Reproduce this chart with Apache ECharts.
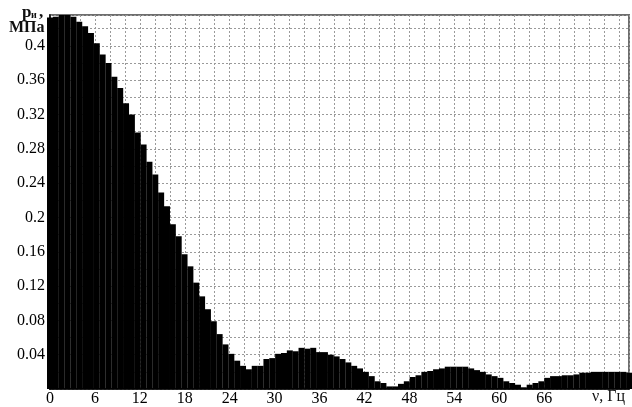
<!DOCTYPE html>
<html>
<head>
<meta charset="utf-8">
<script src="https://cdn.jsdelivr.net/npm/echarts@6/dist/echarts.min.js"></script>
<style>html,body{margin:0;padding:0;background:#fff}#c{width:632px;height:407px}</style>
</head>
<body>
<div id="c"></div>
<script>
// Frequencies of the spectral lines, Hz
const freq = [0,0.781,1.563,2.344,3.125,3.906,4.688,5.469,6.25,7.031,
7.813,8.594,9.375,10.156,10.938,11.719,12.5,13.281,14.063,14.844,
15.625,16.406,17.188,17.969,18.75,19.531,20.313,21.094,21.875,22.656,
23.438,24.219,25,25.781,26.563,27.344,28.125,28.906,29.688,30.469,
31.25,32.031,32.813,33.594,34.375,35.156,35.938,36.719,37.5,38.281,
39.063,39.844,40.625,41.406,42.188,42.969,43.75,44.531,45.313,46.094,
46.875,47.656,48.438,49.219,50,50.781,51.563,52.344,53.125,53.906,
54.688,55.469,56.25,57.031,57.813,58.594,59.375,60.156,60.938,61.719,
62.5,63.281,64.063,64.844,65.625,66.406,67.188,67.969,68.75,69.531,
70.313,71.094,71.875,72.656,73.438,74.219,75,75.781,76.563,77.344];
// Pressure amplitude, MPa
const pressure = [0.433,0.434,0.436,0.436,0.434,0.428,0.423,0.415,0.403,0.390,
0.380,0.364,0.351,0.333,0.320,0.299,0.285,0.265,0.250,0.229,
0.213,0.192,0.178,0.157,0.143,0.124,0.108,0.093,0.079,0.064,
0.052,0.041,0.033,0.027,0.023,0.027,0.027,0.035,0.036,0.041,
0.042,0.045,0.044,0.048,0.047,0.048,0.043,0.043,0.040,0.038,
0.035,0.031,0.027,0.024,0.020,0.015,0.009,0.007,0.003,0.003,
0.006,0.009,0.014,0.016,0.020,0.021,0.023,0.024,0.026,0.026,
0.026,0.026,0.024,0.022,0.020,0.017,0.015,0.013,0.009,0.007,
0.005,0.002,0.005,0.007,0.009,0.013,0.015,0.015,0.016,0.016,
0.017,0.019,0.019,0.020,0.020,0.020,0.020,0.020,0.020,0.019];
// Tick labels shown
const xTickLabels = [0,6,12,18,24,30,36,42,48,54,60,66];
const yTickLabels = [0.04,0.08,0.12,0.16,0.2,0.24,0.28,0.32,0.36,0.4];
const xName = 'ν, Гц';
const yNameTop = 'p';
const yNameSub = 'и';
const yNameUnit = 'МПа';

const chart = echarts.init(document.getElementById('c'), null, {renderer: 'canvas'});
const font = 'Liberation Serif';
const grid = {left: 50, top: 15, width: 580, height: 375};
chart.setOption({
  animation: false,
  backgroundColor: '#fff',
  grid: Object.assign({show: true, borderColor: '#6e6e6e', borderWidth: 2, backgroundColor: 'transparent'}, grid),
  xAxis: {
    type: 'value', min: 0, max: 77.33, interval: 2,
    axisLine: {show: true, onZero: false, lineStyle: {color: '#000', width: 1.5}},
    axisTick: {show: false},
    splitLine: {show: true, lineStyle: {color: '#9a9a9a', type: [2, 2], width: 1}},
    axisLabel: {
      margin: 2, color: '#000', fontFamily: font, fontSize: 16,
      formatter: v => { const r = Math.round(v); return (Math.abs(v - r) < 1e-6 && xTickLabels.includes(r)) ? String(r) : ''; }
    }
  },
  yAxis: {
    type: 'value', min: 0, max: 0.436, interval: 0.02,
    axisLine: {show: true, lineStyle: {color: '#000', width: 1.5}},
    axisTick: {show: false},
    splitLine: {show: true, lineStyle: {color: '#9a9a9a', type: [2, 2], width: 1}},
    axisLabel: {
      margin: 5, color: '#000', fontFamily: font, fontSize: 16,
      formatter: v => { const r = Math.round(v * 100) / 100; return (Math.abs(v - r) < 1e-6 && yTickLabels.includes(r)) ? String(r) : ''; }
    }
  },
  series: [{
    type: 'bar',
    data: freq.map((f, i) => [f, pressure[i]]),
    barWidth: 6,
    itemStyle: {color: '#000'},
    clip: true
  }],
  graphic: [
    {type: 'text', left: 22, top: 4, style: {text: yNameTop, font: 'bold 17px "Liberation Serif"', fill: '#111'}},
    {type: 'text', left: 31, top: 10, style: {text: yNameSub, font: 'bold 10px "Liberation Serif"', fill: '#111'}},
    {type: 'text', left: 39, top: 4, style: {text: ',', font: 'bold 17px "Liberation Serif"', fill: '#111'}},
    {type: 'text', left: 9, top: 20, style: {text: yNameUnit, font: 'bold 16px "Liberation Serif"', fill: '#111'}},
    {type: 'text', left: 592, top: 389, style: {text: xName, font: '16px "Liberation Serif"', fill: '#111'}}
  ]
});
</script>
</body>
</html>
